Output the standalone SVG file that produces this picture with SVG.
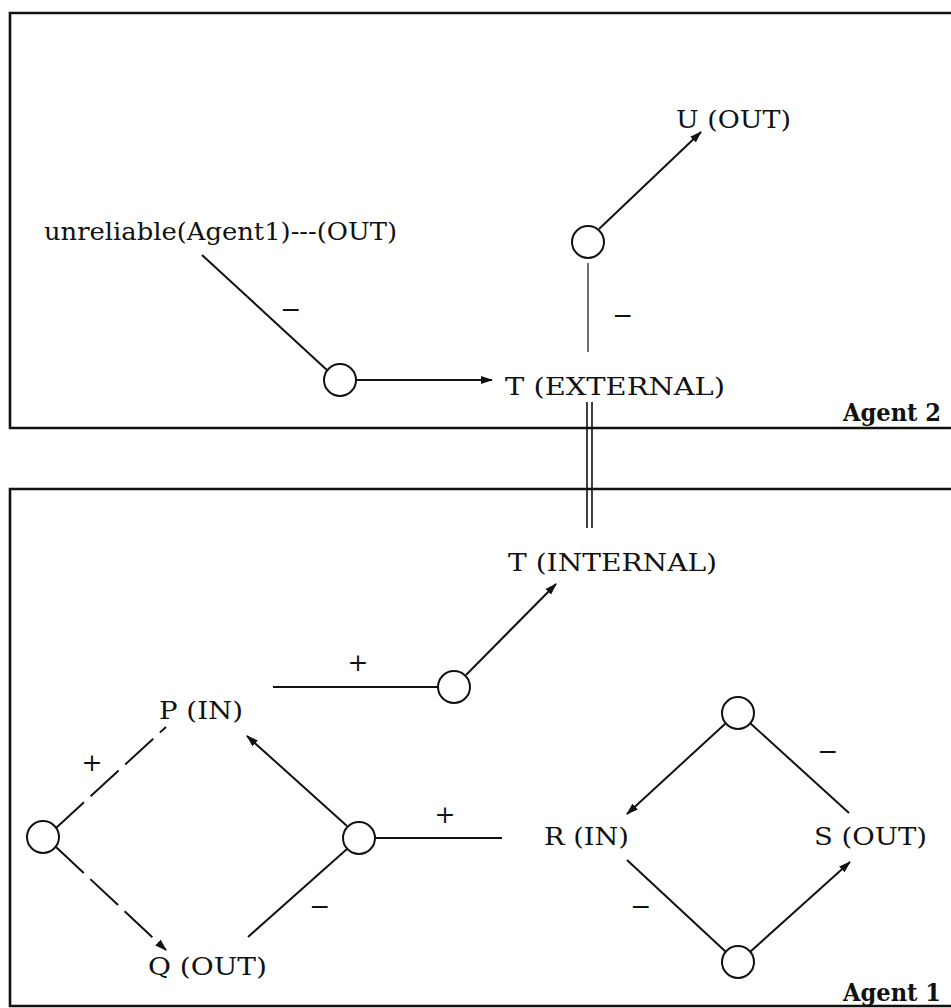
<svg xmlns="http://www.w3.org/2000/svg" width="951" height="1008" viewBox="0 0 951 1008">
<defs>
<style>
.frame{fill:none;stroke:#111;stroke-width:2.6}
.ln{fill:none;stroke:#111;stroke-width:2}
.thin{fill:none;stroke:#222;stroke-width:1.3}
.dash{fill:none;stroke:#111;stroke-width:2;stroke-dasharray:38 9}
.nd{fill:#fff;stroke:#111;stroke-width:2}
.t{font-family:"DejaVu Serif","Liberation Serif",serif;font-size:25px;fill:#111}
.s{font-family:"DejaVu Serif","Liberation Serif",serif;font-size:25px;fill:#111;text-anchor:middle}
.ag{font-family:"DejaVu Serif","Liberation Serif",serif;font-size:25px;font-weight:bold;fill:#111}
</style>
<marker id="ah" viewBox="0 0 12 8" refX="11" refY="4" markerWidth="12" markerHeight="8" markerUnits="userSpaceOnUse" orient="auto">
<path d="M0,0 L12,4 L0,8 Z" fill="#111"/>
</marker>
</defs>
<rect width="951" height="1008" fill="#fff"/>
<g id="agent2-frame">
<polyline class="frame" points="960,13 10,13 10,428 960,428"/>
<text class="ag" x="843" y="421" textLength="98" lengthAdjust="spacingAndGlyphs">Agent 2</text>
</g>
<g id="agent1-frame">
<polyline class="frame" points="960,489 10,489 10,1006 960,1006"/>
<text class="ag" x="843" y="1001" textLength="98" lengthAdjust="spacingAndGlyphs">Agent 1</text>
</g>
<g id="connectors">
<line class="ln" x1="202" y1="255" x2="328" y2="371"/>
<line class="ln" x1="356" y1="380" x2="492" y2="380" marker-end="url(#ah)"/>
<line class="ln" x1="599" y1="229" x2="701" y2="132" marker-end="url(#ah)"/>
<line class="thin" x1="588" y1="263" x2="588" y2="352"/>
<line class="ln" x1="587" y1="402" x2="587" y2="528" style="stroke-width:1.6"/>
<line class="ln" x1="592" y1="402" x2="592" y2="528" style="stroke-width:1.6"/>
<line class="ln" x1="466" y1="675" x2="556" y2="584" marker-end="url(#ah)"/>
<line class="ln" x1="273" y1="687" x2="438" y2="687"/>
<line class="dash" x1="56" y1="828" x2="166" y2="727"/>
<line class="dash" x1="56" y1="847" x2="166" y2="950" marker-end="url(#ah)"/>
<line class="ln" x1="347" y1="826" x2="247" y2="736" marker-end="url(#ah)"/>
<line class="ln" x1="347" y1="849" x2="248" y2="937"/>
<line class="ln" x1="375" y1="838" x2="502" y2="838"/>
<line class="ln" x1="726" y1="723" x2="627" y2="814" marker-end="url(#ah)"/>
<line class="ln" x1="750" y1="723" x2="849" y2="813"/>
<line class="ln" x1="627" y1="860" x2="726" y2="952"/>
<line class="ln" x1="750" y1="952" x2="850" y2="862" marker-end="url(#ah)"/>
<text class="s" x="291" y="318">−</text>
<text class="s" x="623" y="324">−</text>
<text class="s" x="358" y="671">+</text>
<text class="s" x="92" y="771">+</text>
<text class="s" x="445" y="823">+</text>
<text class="s" x="320" y="915">−</text>
<text class="s" x="828" y="760">−</text>
<text class="s" x="641" y="915">−</text>
</g>
<g id="unreliable"><text class="t" x="44" y="240" textLength="353" lengthAdjust="spacingAndGlyphs">unreliable(Agent1)---(OUT)</text></g>
<g id="node-c1"><circle class="nd" cx="340" cy="380" r="16"/></g>
<g id="T-external"><text class="t" x="505" y="395" textLength="220" lengthAdjust="spacingAndGlyphs">T (EXTERNAL)</text></g>
<g id="node-c2"><circle class="nd" cx="588" cy="242" r="16"/></g>
<g id="U-out"><text class="t" x="676" y="128" textLength="115" lengthAdjust="spacingAndGlyphs">U (OUT)</text></g>
<g id="T-internal"><text class="t" x="508" y="571" textLength="209" lengthAdjust="spacingAndGlyphs">T (INTERNAL)</text></g>
<g id="node-c3"><circle class="nd" cx="454" cy="687" r="16"/></g>
<g id="P-in"><text class="t" x="159" y="719" textLength="84" lengthAdjust="spacingAndGlyphs">P (IN)</text></g>
<g id="node-c4"><circle class="nd" cx="43" cy="837" r="16"/></g>
<g id="node-c5"><circle class="nd" cx="359" cy="838" r="16"/></g>
<g id="Q-out"><text class="t" x="148" y="975" textLength="119" lengthAdjust="spacingAndGlyphs">Q (OUT)</text></g>
<g id="R-in"><text class="t" x="544" y="845" textLength="85" lengthAdjust="spacingAndGlyphs">R (IN)</text></g>
<g id="S-out"><text class="t" x="814" y="845" textLength="113" lengthAdjust="spacingAndGlyphs">S (OUT)</text></g>
<g id="node-c6"><circle class="nd" cx="738" cy="713" r="16"/></g>
<g id="node-c7"><circle class="nd" cx="738" cy="962" r="16"/></g>
</svg>
